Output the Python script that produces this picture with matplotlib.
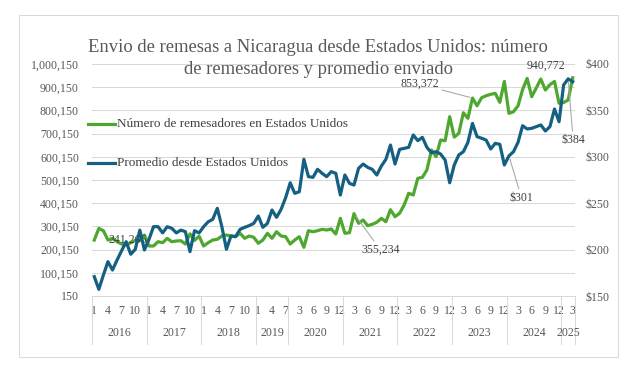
import numpy as np
import matplotlib.pyplot as plt
from matplotlib.patches import Rectangle
from matplotlib.lines import Line2D

plt.rcParams["font.family"] = ["Liberation Serif", "DejaVu Serif"]

# categories: year groups and how many months each one has
years = ["2016", "2017", "2018", "2019", "2020", "2021", "2022", "2023", "2024", "2025"]
months_per_year = [12, 12, 12, 7, 12, 12, 12, 12, 12, 3]

# Numero de remesadores (left axis)
remesadores = [
    241266, 291600, 281600, 241500, 248600, 234200, 224300, 220000, 229900, 240000, 240000, 263100,
    215650, 215650, 234200, 229900, 248600, 234200, 237200, 238500, 224300, 268000, 240000, 258000,
    215650, 230000, 241500, 244500, 258700, 263100, 258700, 255700, 270400, 248800, 258700, 253100,
    227300, 241500, 270400, 248800, 277300, 258700, 255700,
    224300, 241500, 255700, 210000, 281600, 277300, 281600, 287600, 284600, 289000, 267400, 335000,
    270400, 273000, 355234, 313500, 327700, 303200, 309200, 317800, 335000, 320400, 372000, 342000,
    356600, 392400, 442800, 435500, 507400, 511700, 543200, 629400, 600600, 672500, 669500, 773000,
    685000, 701400, 790000, 766000, 853372, 820000, 854700, 863400, 869400, 873700, 835000, 925000,
    787600, 794500, 820000, 890000, 938000, 859200, 897000, 935400, 888000, 911000, 925000, 830700,
    834000, 845000, 940772,
]

# Promedio enviado en USD (right axis)
promedio = [
    170.8, 157.2, 172.6, 187.0, 178.0, 188.8, 198.8, 208.5, 195.0, 200.3, 221.0, 199.6,
    211.0, 224.7, 224.7, 218.0, 224.7, 223.0, 218.0, 221.0, 219.3, 197.8, 220.4, 218.0,
    224.7, 230.0, 232.6, 244.5, 224.7, 200.3, 214.7, 214.0, 221.8, 224.0, 225.8, 228.3,
    236.2, 224.0, 228.3, 242.7, 234.8, 243.4, 256.0,
    272.0, 260.6, 262.4, 297.3, 278.6, 277.9, 286.5, 282.2, 278.6, 284.0, 282.2, 258.8,
    280.4, 271.4, 269.6, 287.6, 292.2, 288.6, 286.5, 280.4, 290.0, 297.3, 312.7, 292.2,
    308.0, 309.1, 310.2, 323.5, 317.4, 321.0, 310.2, 304.4, 305.5, 303.0, 296.5, 272.0,
    291.2, 302.0, 305.5, 315.6, 336.0, 321.7, 320.0, 318.0, 308.4, 314.5, 313.4, 291.2,
    301.0, 305.5, 315.6, 333.5, 330.0, 330.7, 332.5, 334.3, 327.8, 332.5, 351.5, 337.8,
    377.4, 384.0, 381.0,
]

# month number of every point (2019 runs Jan-Jul, 2025 Jan-Mar)
month_num = []
for n in months_per_year:
    month_num += list(range(1, n + 1))
x = np.arange(len(month_num))

green = "#4EA72E"
blue = "#156082"
grid_c = "#D9D9D9"
txt_c = "#595959"
lab_c = "#404040"

W, H = 639, 375
fig = plt.figure(figsize=(W / 100, H / 100), dpi=100)

# chart border
fig.patches.append(Rectangle((19 / W, 1 - 357 / H), (618 - 19) / W, (357 - 15) / H,
                             transform=fig.transFigure, fill=False,
                             edgecolor=grid_c, lw=0.75))

ax = fig.add_axes([92 / W, 1 - 296 / H, (575 - 92) / W, (296 - 64) / H])
ax2 = ax.twinx()

ax.plot(x, remesadores, color=green, lw=2.3, solid_joinstyle="round")
ax2.plot(x, promedio, color=blue, lw=2.3, solid_joinstyle="round")

ax.set_xlim(-0.5, len(x) - 0.5)
ax.set_ylim(150, 1000150)
ax2.set_ylim(150, 400)

lt = np.arange(150, 1000151, 100000)
ax.set_yticks(lt)
ax.set_yticklabels([f"{v:,}" for v in lt])
rt = np.arange(150, 401, 50)
ax2.set_yticks(rt)
ax2.set_yticklabels([f"${v}" for v in rt])

ax.yaxis.grid(True, color=grid_c, lw=0.75)
ax.set_axisbelow(True)
for s in ["top", "left", "right"]:
    ax.spines[s].set_visible(False)
    ax2.spines[s].set_visible(False)
ax.spines["bottom"].set_color(grid_c)
ax.spines["bottom"].set_linewidth(0.75)
ax2.spines["bottom"].set_visible(False)

ax.tick_params(axis="y", length=0, pad=9.4, labelsize=8.6, labelcolor=txt_c)
ax2.tick_params(axis="y", length=0, pad=7.2, labelsize=8.6, labelcolor=txt_c)

# month ticks every third category
mt = x[::3]
ax.set_xticks(mt)
ax.set_xticklabels([str(month_num[i]) for i in mt])
ax.tick_params(axis="x", length=0, pad=6.5, labelsize=8.6, labelcolor=txt_c)

# year level of the category axis
tr = ax.get_xaxis_transform()
start = 0
edges = [-0.5]
for yr, n in zip(years, months_per_year):
    ax.text(start + (n - 1) / 2, -0.16, yr, transform=tr, ha="center", va="center",
            fontsize=8.6, color=txt_c)
    start += n
    edges.append(start - 0.5)
for e in edges:
    ax.plot([e, e], [0, -0.207], transform=tr, color=grid_c, lw=0.75, clip_on=False)

# data labels
lead = dict(arrowstyle="-", color="#A6A6A6", lw=0.75, shrinkA=0, shrinkB=2)
ax.annotate(f"{remesadores[0]:,}", (x[0], remesadores[0]), xytext=(10, 0),
            textcoords="offset points", ha="left", va="center", fontsize=8.6, color=lab_c)
ax.annotate(f"{remesadores[57]:,}", (x[57], remesadores[57]), xytext=(19, -26),
            textcoords="offset points", ha="center", va="center", fontsize=8.6, color=lab_c,
            arrowprops=lead)
ax.annotate(f"{remesadores[83]:,}", (x[83], remesadores[83]), xytext=(-24, 10),
            textcoords="offset points", ha="right", va="center", fontsize=8.6, color=lab_c,
            arrowprops=lead)
ax.annotate(f"{remesadores[-1]:,}", (x[-1], remesadores[-1]), xytext=(-19, 9),
            textcoords="offset points", ha="center", va="center", fontsize=8.6, color=lab_c)
ax2.annotate(f"${promedio[91]:.0f}", (x[91], promedio[91]), xytext=(9, -30),
             textcoords="offset points", ha="center", va="center", fontsize=8.6, color=lab_c,
             arrowprops=lead)
ax2.annotate(f"${promedio[104]:.0f}", (x[104], promedio[104]), xytext=(3.6, -44),
             textcoords="offset points", ha="center", va="center", fontsize=8.6, color=lab_c,
             arrowprops=lead)

# legend inside the plot
for yy, col, lab in [(124, green, "Número de remesadores en Estados Unidos"),
                     (163, blue, "Promedio desde Estados Unidos")]:
    fig.add_artist(Line2D([88 / W, 115 / W], [1 - yy / H, 1 - yy / H], color=col, lw=2.3,
                          transform=fig.transFigure))
    fig.text(117 / W, 1 - yy / H, lab, ha="left", va="center", fontsize=9.5, color=lab_c)

# two-line title
fig.text(318 / W, 1 - 48 / H, "Envio de remesas a Nicaragua desde Estados Unidos: número",
         ha="center", va="center", fontsize=13.4, color=txt_c)
fig.text(318 / W, 1 - 70 / H, "de remesadores y promedio enviado",
         ha="center", va="center", fontsize=13.4, color=txt_c)

fig.savefig("out.png", dpi=100)
